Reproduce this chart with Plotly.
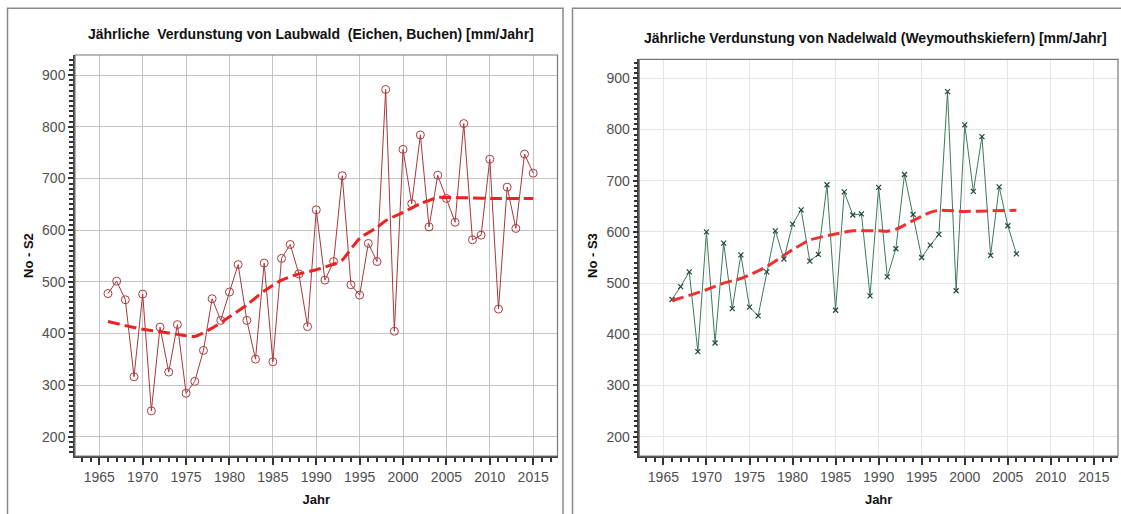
import plotly.graph_objects as go

# ---- data ----
years_s2 = list(range(1966, 2016))
s2 = [477, 501, 465, 316, 476, 250, 412, 325, 417, 284,
      307, 367, 467, 425, 480, 533, 425, 350, 536, 345,
      545, 572, 515, 413, 639, 503, 539, 705, 494, 474,
      574, 539, 872, 404, 756, 651, 784, 606, 706, 661,
      615, 806, 581, 590, 737, 447, 683, 603, 747, 710]
trend_s2_years = [1966, 1968, 1970, 1972, 1974, 1976, 1978, 1980, 1982, 1984, 1986, 1988,
                  1990, 1992, 1993, 1995, 1997, 1998, 2000, 2002, 2003, 2004, 2005, 2008, 2010, 2015]
trend_s2 = [423, 415, 408, 403, 398, 394, 410, 432, 455, 482, 503, 515,
            523, 534, 542, 584, 605, 618, 634, 651, 657, 663, 663, 662, 661, 661]

years_s3 = list(range(1966, 2007))
s3 = [468, 493, 522, 366, 600, 383, 578, 450, 555, 453,
      436, 522, 602, 547, 615, 643, 543, 556, 692, 447,
      678, 633, 635, 475, 687, 512, 567, 712, 634, 550,
      574, 595, 874, 485, 809, 679, 786, 554, 688, 612, 557]
trend_s3_years = [1966, 1968, 1970, 1972, 1974, 1977, 1980, 1982, 1985, 1987,
                  1990, 1991, 1992, 1994, 1996, 1997, 2000, 2003, 2006]
trend_s3 = [466, 476, 487, 500, 509, 532, 565, 584, 596, 602,
            602, 601, 605, 622, 638, 642, 640, 641, 642]

title_left = "Jährliche  Verdunstung von Laubwald  (Eichen, Buchen) [mm/Jahr]"
title_right = "Jährliche Verdunstung von Nadelwald (Weymouthskiefern) [mm/Jahr]"
ytitle_left = "No - S2"
ytitle_right = "No - S3"
xtitle = "Jahr"
x_ticks = [1965, 1970, 1975, 1980, 1985, 1990, 1995, 2000, 2005, 2010, 2015]
y_ticks = [200, 300, 400, 500, 600, 700, 800, 900]

W, H = 1121, 514
FONT = "Liberation Sans, Arial, sans-serif"

fig = go.Figure()

fig.add_trace(go.Scatter(x=years_s2, y=s2, mode="lines+markers", xaxis="x", yaxis="y",
                         line=dict(color="#a8383c", width=1),
                         marker=dict(symbol="circle-open", size=8, color="#b03a3e", line=dict(width=1)),
                         showlegend=False))
fig.add_trace(go.Scatter(x=trend_s2_years, y=trend_s2, mode="lines", xaxis="x", yaxis="y",
                         line=dict(color="#ee2222", width=3, dash="12px,5px", shape="spline", smoothing=0.6),
                         showlegend=False))
fig.add_trace(go.Scatter(x=years_s3, y=s3, mode="lines+markers", xaxis="x2", yaxis="y2",
                         line=dict(color="#3d7a5a", width=1),
                         marker=dict(symbol="x-thin-open", size=5, color="#1e4a36", line=dict(width=1.2)),
                         showlegend=False))
fig.add_trace(go.Scatter(x=trend_s3_years, y=trend_s3, mode="lines", xaxis="x2", yaxis="y2",
                         line=dict(color="#f03030", width=3, dash="12px,5px", shape="spline", smoothing=0.6),
                         showlegend=False))

def px_x(p):
    return p / W

def px_y(p):
    return 1 - p / H

def xaxis(domain, gridcolor):
    return dict(domain=domain, range=[1962.2, 2017.8], tickvals=x_ticks,
                ticks="outside", ticklen=7, tickcolor="#333", tickwidth=1.5,
                showline=True, linecolor="#444", linewidth=1.5, mirror=False,
                showgrid=True, gridcolor=gridcolor, gridwidth=1, zeroline=False,
                tickfont=dict(family=FONT, size=14, color="#505050"),
                minor=dict(dtick=1, tick0=1965, ticks="outside", ticklen=4, tickcolor="#333", showgrid=False),
                title=dict(text="<b>" + xtitle + "</b>", font=dict(family=FONT, size=13, color="#111"), standoff=11),
                fixedrange=True)

def yaxis(domain, anchor, rng, gridcolor):
    return dict(domain=domain, range=rng, tickvals=y_ticks, anchor=anchor,
                ticks="outside", ticklen=5, tickcolor="#333", tickwidth=1.5,
                showline=True, linecolor="#444", linewidth=1.5,
                showgrid=True, gridcolor=gridcolor, gridwidth=1, zeroline=False,
                tickfont=dict(family=FONT, size=14, color="#505050"),
                minor=dict(dtick=10, tick0=0, ticks="outside", ticklen=4, tickcolor="#333", showgrid=False),
                fixedrange=True)

xl = [px_x(75), px_x(557.5)]
xr = [px_x(639.3), px_x(1118)]
yl = [px_y(456), px_y(55)]
yr = [px_y(456), px_y(59.3)]

fig.update_layout(
    width=W, height=H, margin=dict(l=0, r=0, t=0, b=0),
    paper_bgcolor="white", plot_bgcolor="white",
    xaxis=dict(xaxis(xl, "#c4c4c4"), anchor="y"),
    yaxis=yaxis(yl, "x", [162.6, 938.7], "#c4c4c4"),
    xaxis2=dict(xaxis(xr, "#e4e4e4"), anchor="y2"),
    yaxis2=yaxis(yr, "x2", [162.3, 937.0], "#e4e4e4"),
)

shapes = []
# panel frames
shapes.append(dict(type="rect", xref="paper", yref="paper", x0=px_x(7.5), x1=px_x(563), y0=-0.05, y1=px_y(8.3),
                   line=dict(color="#8a8a8a", width=1.5)))
shapes.append(dict(type="rect", xref="paper", yref="paper", x0=px_x(572.5), x1=1.05, y0=-0.05, y1=px_y(8.3),
                   line=dict(color="#8a8a8a", width=1.5)))
# plot-area frames (top/right)
for xd, yd in ((xl, yl), (xr, yr)):
    shapes.append(dict(type="rect", xref="paper", yref="paper", x0=xd[0], x1=xd[1], y0=yd[0], y1=yd[1],
                       line=dict(color="#777", width=1.2)))
fig.update_layout(shapes=shapes)

ann = []
ann.append(dict(text="<b>" + title_left + "</b>", x=px_x(311), y=px_y(34), xref="paper", yref="paper",
                showarrow=False, font=dict(family=FONT, size=14, color="#111"), xanchor="center", yanchor="middle"))
ann.append(dict(text="<b>" + title_right + "</b>", x=px_x(875), y=px_y(38), xref="paper", yref="paper",
                showarrow=False, font=dict(family=FONT, size=14, color="#111"), xanchor="center", yanchor="middle"))
ann.append(dict(text="<b>" + ytitle_left + "</b>", x=px_x(28), y=px_y(256), xref="paper", yref="paper",
                showarrow=False, textangle=-90, font=dict(family=FONT, size=13, color="#111"),
                xanchor="center", yanchor="middle"))
ann.append(dict(text="<b>" + ytitle_right + "</b>", x=px_x(592), y=px_y(256), xref="paper", yref="paper",
                showarrow=False, textangle=-90, font=dict(family=FONT, size=13, color="#111"),
                xanchor="center", yanchor="middle"))
fig.update_layout(annotations=ann)

fig.write_html("out.html")
